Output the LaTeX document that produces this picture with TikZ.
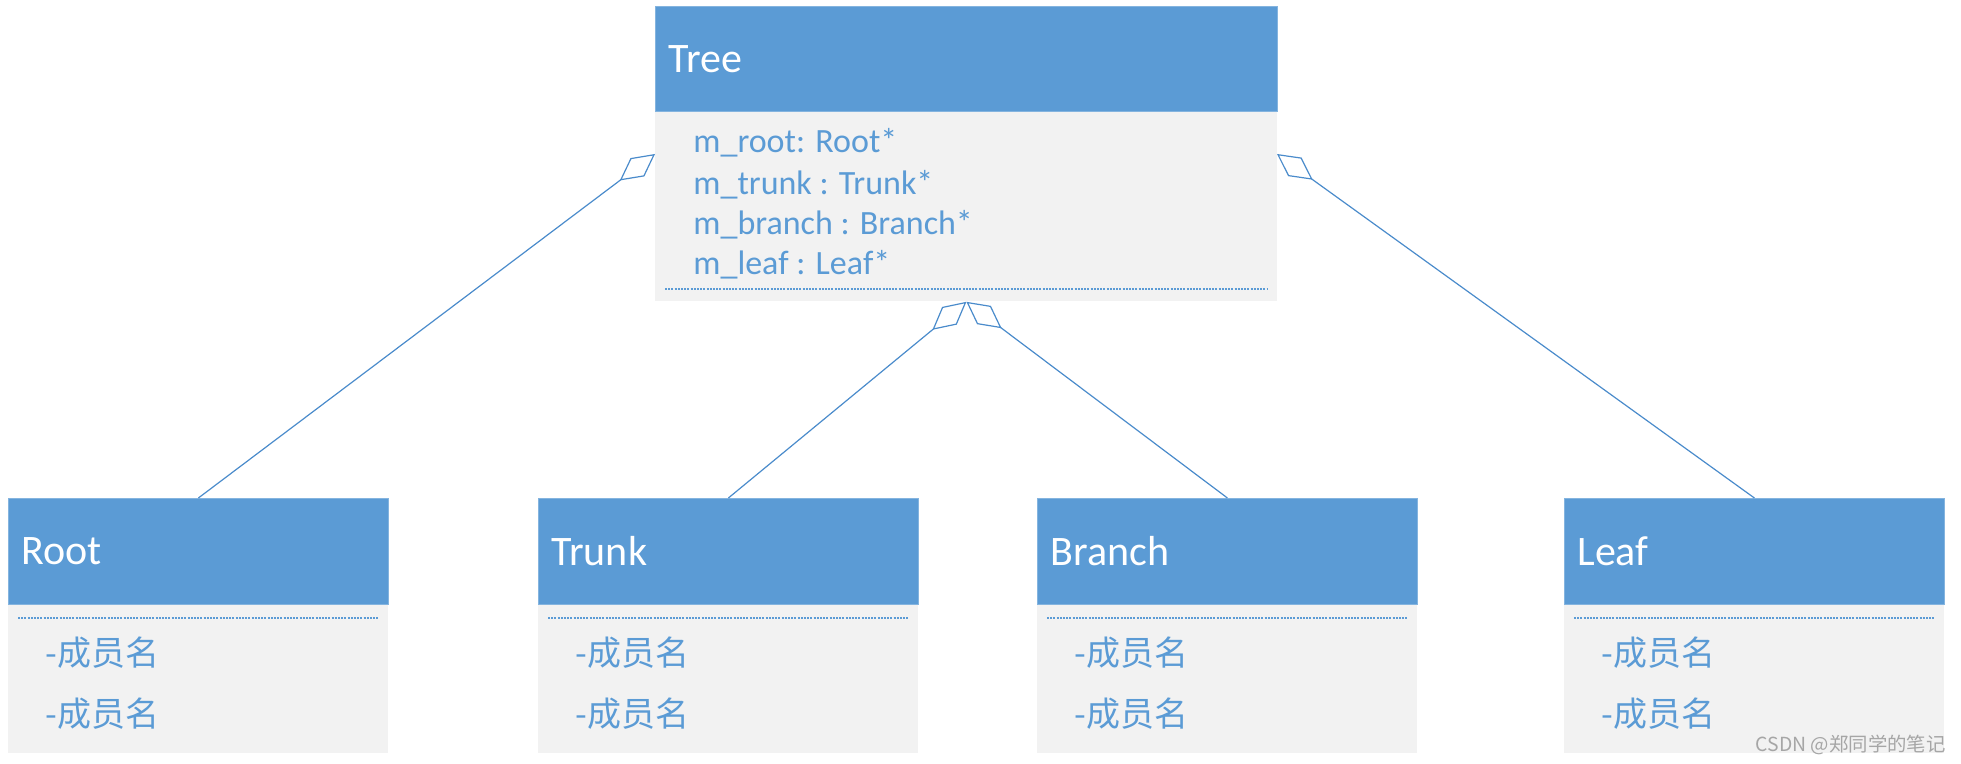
\documentclass[tikz,border=0pt]{standalone}
\usepackage{fontspec}
\setmainfont{Carlito}
\newfontfamily\cjk{Noto Sans CJK SC}
\usetikzlibrary{arrows.meta}
\definecolor{hdr}{HTML}{5B9BD5}
\definecolor{bodyg}{HTML}{F2F2F2}
\definecolor{lnc}{HTML}{4A8BCB}
\definecolor{wm}{HTML}{A6A6A6}
\begin{document}
\begin{tikzpicture}[x=0.5pt,y=-0.5pt,
  hdrbox/.style={fill=hdr, draw=hdr!75!white, line width=0.4pt, anchor=north west,
    inner xsep=6.5pt, inner ysep=0pt, align=left, text=white,
    font=\fontsize{21}{25}\selectfont},
  bodybox/.style={fill=bodyg, draw=none, anchor=north west, inner sep=0pt},
  attr/.style={anchor=west, text=hdr, inner sep=0pt, font=\fontsize{17}{20}\selectfont},
  member/.style={anchor=west, text=hdr, inner sep=0pt, font=\cjk\fontsize{17}{20}\selectfont},
  sepline/.style={hdr, line width=0.6pt, dash pattern=on 1pt off 0.6pt},
  agg/.style={lnc, line width=0.6pt, -{Diamond[open,length=22pt,width=11.5pt]}},
  wmark/.style={anchor=east, text=wm, inner sep=0pt, font=\cjk\fontsize{9.7}{12}\selectfont},
]
\useasboundingbox (0,0) rectangle (1961,764);
% Tree class
\node[bodybox, minimum width=311pt, minimum height=95pt] (treeB) at (655,111) {};
\node[hdrbox, text width=298pt, minimum height=52.5pt] (treeH) at (655,6) {Tree};
\node[attr] (a1) at (693,143) {m\_root: Root*};
\node[attr] (a2) at (693,185) {m\_trunk : Trunk*};
\node[attr] (a3) at (693,225) {m\_branch : Branch*};
\node[attr] (a4) at (693,265) {m\_leaf : Leaf*};
\draw[sepline] (665,289) -- (1268,289);
\coordinate (tl) at (655,154);
\coordinate (tr) at (1277,154);
% child classes
\foreach \nm/\lbl/\xx in {root/Root/8, trunk/Trunk/538, branch/Branch/1037, leaf/Leaf/1564}{
  \node[bodybox, minimum width=190pt, minimum height=74.5pt] (\nm B) at (\xx,604) {};
  \node[hdrbox, text width=177pt, minimum height=53pt] (\nm H) at (\xx,498) {\lbl};
  \draw[sepline] (\xx+10,618) -- (\xx+371,618);
  \node[member] (\nm M1) at (\xx+37,653) {-成员名};
  \node[member] (\nm M2) at (\xx+37,714) {-成员名};
}
% aggregation connectors
\draw[agg] (rootH.north) -- (tl);
\draw[agg] (trunkH.north) -- (treeB.south);
\draw[agg] (branchH.north) -- (treeB.south);
\draw[agg] (leafH.north) -- (tr);
% watermark
\node[wmark] (wm) at (1946,745) {CSDN @郑同学的笔记};
\end{tikzpicture}
\end{document}
